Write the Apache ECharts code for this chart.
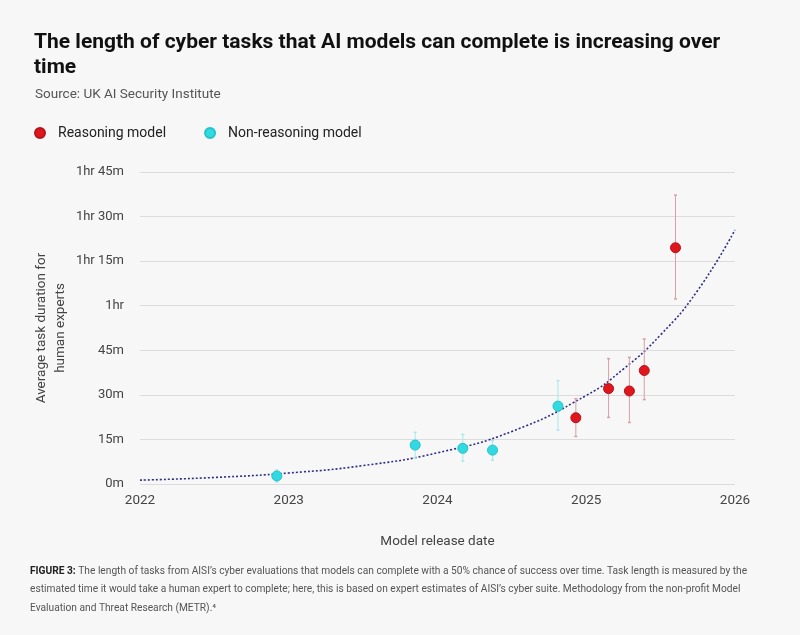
<!DOCTYPE html>
<html>
<head>
<meta charset="utf-8">
<script src="https://cdn.jsdelivr.net/npm/echarts@6/dist/echarts.min.js"></script>
<style>
html,body{margin:0;padding:0;background:#f7f7f7;}
#chart{width:800px;height:635px;}
</style>
</head>
<body>
<div id="chart"></div>
<script>
// Data (dates as decimal years, values in minutes)
const reasoningDates = [2024.93, 2025.15, 2025.29, 2025.39, 2025.60];
const reasoningValues = [22.3, 32.1, 31.3, 38.2, 79.5];
const reasoningLow = [16.0, 22.4, 20.7, 28.4, 62.3];
const reasoningHigh = [28.7, 42.2, 42.6, 48.8, 97.2];

const nonReasoningDates = [2022.92, 2023.85, 2024.17, 2024.37, 2024.81];
const nonReasoningValues = [2.7, 13.1, 12.0, 11.4, 26.2];
const nonReasoningLow = [0.7, 8.7, 7.7, 8.0, 18.1];
const nonReasoningHigh = [4.7, 17.4, 16.7, 14.6, 34.8];

// Trend line
const trendDates = [2022, 2022.5, 2023, 2023.5, 2024, 2024.5, 2025, 2025.25, 2025.5, 2025.75, 2026];
const trendValues = [1.3, 2.2, 3.7, 6.2, 10.5, 17.7, 29.8, 38.7, 50.2, 65.2, 85.5];

const yTicks = [0, 15, 30, 45, 60, 75, 90, 105];
const xTicks = [2022, 2023, 2024, 2025, 2026];

const RED = '#e0161f';
const CYAN = '#33d9e0';
const AXIS_FONT = 'Roboto';

function fmtMinutes(v) {
  const h = Math.floor(v / 60), m = Math.round(v % 60);
  if (h === 0) return m + 'm';
  return h + 'hr' + (m ? ' ' + m + 'm' : '');
}

function zip(a, b) { return a.map((v, i) => [v, b[i]]); }
function zip3(a, b, c) { return a.map((v, i) => [v, b[i], c[i]]); }

function errorRender(color) {
  return function (params, api) {
    const x = api.value(0);
    const lo = api.coord([x, api.value(1)]);
    const hi = api.coord([x, api.value(2)]);
    return {
      type: 'group',
      children: [
        { type: 'line', shape: { x1: lo[0], y1: lo[1], x2: hi[0], y2: hi[1] }, style: { stroke: color, lineWidth: 1 } },
        { type: 'line', shape: { x1: lo[0] - 1.5, y1: lo[1], x2: lo[0] + 1.5, y2: lo[1] }, style: { stroke: color, lineWidth: 1.5 } },
        { type: 'line', shape: { x1: hi[0] - 1.5, y1: hi[1], x2: hi[0] + 1.5, y2: hi[1] }, style: { stroke: color, lineWidth: 1.5 } }
      ]
    };
  };
}

const chart = echarts.init(document.getElementById('chart'), null, { renderer: 'canvas' });
chart.setOption({
  backgroundColor: '#f7f7f7',
  animation: false,
  title: [{
    text: 'The length of cyber tasks that AI models can complete is increasing over\ntime',
    left: 29, top: 25,
    textStyle: { fontFamily: 'Roboto', fontWeight: 'bold', fontSize: 21, color: '#111', lineHeight: 25 }
  }, {
    text: 'Source: UK AI Security Institute',
    left: 30, top: 83,
    textStyle: { fontFamily: 'Roboto', fontWeight: 'normal', fontSize: 13.5, color: '#555' }
  }],
  legend: {
    left: 29, top: 121,
    icon: 'circle', itemWidth: 10, itemHeight: 10, itemGap: 38,
    textStyle: { fontFamily: 'Roboto', fontSize: 14, color: '#222', padding: [0, 0, 0, 8] },
    data: ['Reasoning model', 'Non-reasoning model']
  },
  grid: { left: 140, right: 65, top: 172, bottom: 151 },
  xAxis: {
    type: 'value', min: 2022, max: 2026, interval: 1,
    name: 'Model release date', nameLocation: 'middle', nameGap: 51,
    nameTextStyle: { fontFamily: AXIS_FONT, fontSize: 13.5, color: '#444' },
    axisLine: { show: false }, axisTick: { show: false }, splitLine: { show: false },
    axisLabel: { fontFamily: AXIS_FONT, fontSize: 13.5, color: '#444', margin: 10, formatter: v => String(v) }
  },
  yAxis: {
    type: 'value', min: 0, max: 105, interval: 15,
    name: 'Average task duration for\nhuman experts', nameLocation: 'middle', nameGap: 70,
    nameMoveOverlap: false,
    nameTextStyle: { fontFamily: AXIS_FONT, fontSize: 13.5, color: '#444', lineHeight: 19 },
    axisLine: { show: false }, axisTick: { show: false },
    splitLine: { lineStyle: { color: '#dcdcdc', width: 1.2 } },
    axisLabel: { fontFamily: AXIS_FONT, fontSize: 13, color: '#444', margin: 16, formatter: fmtMinutes }
  },
  series: [
    {
      name: 'trend', type: 'line', data: zip(trendDates, trendValues), smooth: true,
      showSymbol: false, symbol: 'none', z: 2,
      lineStyle: { color: '#2f2f86', width: 1.6, type: [2, 2] }
    },
    {
      name: 'reasoningErr', type: 'custom', renderItem: errorRender('#d7a0a4'),
      data: zip3(reasoningDates, reasoningLow, reasoningHigh), z: 3, silent: true
    },
    {
      name: 'nonReasoningErr', type: 'custom', renderItem: errorRender('#a8e8ec'),
      data: zip3(nonReasoningDates, nonReasoningLow, nonReasoningHigh), z: 3, silent: true
    },
    {
      name: 'Reasoning model', type: 'scatter', data: zip(reasoningDates, reasoningValues),
      symbolSize: 10, z: 5,
      itemStyle: { color: RED, borderColor: '#b5121a', borderWidth: 1, opacity: 1 }
    },
    {
      name: 'Non-reasoning model', type: 'scatter', data: zip(nonReasoningDates, nonReasoningValues),
      symbolSize: 10, z: 5,
      itemStyle: { color: CYAN, borderColor: '#22c3cb', borderWidth: 1, opacity: 1 }
    }
  ],
  graphic: [{
    type: 'text', left: 30, top: 562,
    style: {
      text: '{b|FIGURE 3:} The length of tasks from AISI\u2019s cyber evaluations that models can complete with a 50% chance of success over time. Task length is measured by the\nestimated time it would take a human expert to complete; here, this is based on expert estimates of AISI\u2019s cyber suite. Methodology from the non-profit Model\nEvaluation and Threat Research (METR).\u2074',
      fontFamily: 'Roboto', fontSize: 10.2, fill: '#555', lineHeight: 18.5,
      rich: { b: { fontFamily: 'Roboto', fontWeight: 'bold', fontSize: 10.2, fill: '#222', lineHeight: 18.5 } }
    }
  }]
});
</script>
</body>
</html>
